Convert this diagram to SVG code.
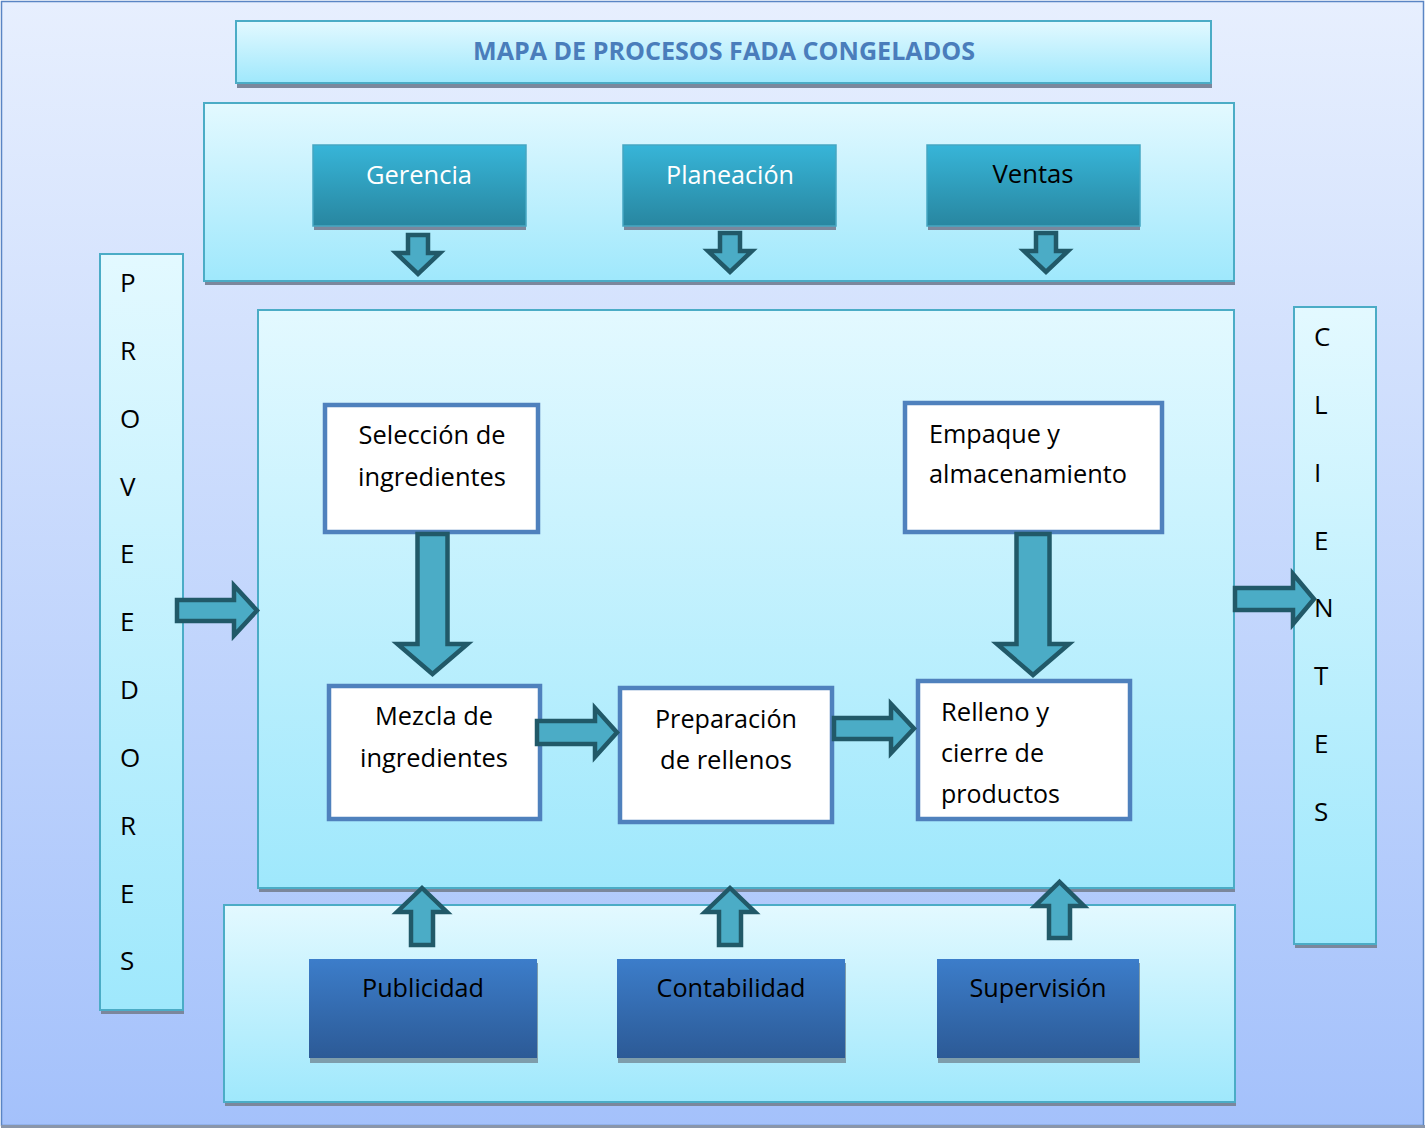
<svg xmlns="http://www.w3.org/2000/svg" width="1425" height="1128" viewBox="0 0 1425 1128">
<defs>
<linearGradient id="gBg" x1="0" y1="0" x2="0" y2="1"><stop offset="0" stop-color="#e7effe"/><stop offset="1" stop-color="#a4c1fb"/></linearGradient>
<linearGradient id="gLight" x1="0" y1="0" x2="0" y2="1"><stop offset="0" stop-color="#e3f9ff"/><stop offset="1" stop-color="#9fe8fc"/></linearGradient>
<linearGradient id="gTeal" x1="0" y1="0" x2="0" y2="1"><stop offset="0" stop-color="#37b5d8"/><stop offset="1" stop-color="#2886a0"/></linearGradient>
<linearGradient id="gBlue" x1="0" y1="0" x2="0" y2="1"><stop offset="0" stop-color="#3c7dca"/><stop offset="1" stop-color="#2c5a96"/></linearGradient>
</defs>
<style>
.light{fill:url(#gLight);stroke:#4bacc6;stroke-width:2}
.sh{fill:#7b879c}
.shb{fill:#7e9dab}
.teal{fill:url(#gTeal);stroke:#46a7c2;stroke-width:1.5}
.blue{fill:url(#gBlue)}
.proc{fill:#ffffff;stroke:#4f81bd;stroke-width:4.5}
.arr{fill:#4bacc6;stroke:#215968;stroke-width:4.5;stroke-linejoin:miter}
text{font-family:"Open Sans","Noto Sans","DejaVu Sans",sans-serif;font-size:26px;fill:#000}
.c{text-anchor:middle}
.w{fill:#ffffff}
.title{font-weight:bold;fill:#4a7dbb;font-size:25.5px}
</style>
<g id="background">
<rect x="1.5" y="1.5" width="1422" height="1124" fill="url(#gBg)" stroke="#5a85c4" stroke-width="1.5"/>
<rect x="1" y="1125" width="1424" height="3" fill="#8a96aa"/>
</g>
<g id="title">
<rect class="sh" x="237" y="25" width="975" height="63"/>
<rect class="light" x="236" y="21" width="975" height="62"/>
<text class="c title" x="724" y="60" textLength="502" lengthAdjust="spacingAndGlyphs">MAPA DE PROCESOS FADA CONGELADOS</text>
</g>
<g id="strategic-band">
<rect class="sh" x="205" y="107" width="1030" height="178"/>
<rect class="light" x="204" y="103" width="1030" height="178"/>
</g>
<g id="gerencia">
<rect class="sh" x="314" y="149" width="212" height="81"/>
<rect class="teal" x="313" y="145" width="213" height="81"/>
<text class="c w" x="419" y="184" textLength="106" lengthAdjust="spacingAndGlyphs">Gerencia</text>
</g>
<g id="planeacion">
<rect class="sh" x="624" y="149" width="212" height="81"/>
<rect class="teal" x="623" y="145" width="213" height="81"/>
<text class="c w" x="730" y="184" textLength="128" lengthAdjust="spacingAndGlyphs">Planeación</text>
</g>
<g id="ventas">
<rect class="sh" x="928" y="149" width="212" height="81"/>
<rect class="teal" x="927" y="145" width="213" height="81"/>
<text class="c" x="1033" y="183" textLength="81" lengthAdjust="spacingAndGlyphs">Ventas</text>
</g>
<g id="proveedores">
<rect class="sh" x="101" y="258" width="83" height="756"/>
<rect class="light" x="100" y="254" width="83" height="756"/>
<text x="120" y="292">P</text>
<text x="120" y="360">R</text>
<text x="120" y="428">O</text>
<text x="120" y="496">V</text>
<text x="120" y="563">E</text>
<text x="120" y="631">E</text>
<text x="120" y="699">D</text>
<text x="120" y="767">O</text>
<text x="120" y="835">R</text>
<text x="120" y="903">E</text>
<text x="120" y="970">S</text>
</g>
<g id="clientes">
<rect class="sh" x="1295" y="311" width="82" height="637"/>
<rect class="light" x="1294" y="307" width="82" height="637"/>
<text x="1314" y="346">C</text>
<text x="1314" y="414">L</text>
<text x="1314" y="482">I</text>
<text x="1314" y="550">E</text>
<text x="1314" y="617">N</text>
<text x="1314" y="685">T</text>
<text x="1314" y="753">E</text>
<text x="1314" y="821">S</text>
</g>
<g id="core-band">
<rect class="sh" x="259" y="314" width="976" height="578"/>
<rect class="light" x="258" y="310" width="976" height="578"/>
</g>
<g id="support-band">
<rect class="sh" x="225" y="909" width="1011" height="197"/>
<rect class="light" x="224" y="905" width="1011" height="197"/>
</g>
<g id="publicidad">
<rect class="shb" x="310" y="963" width="228" height="100"/>
<rect class="blue" x="309" y="959" width="228" height="99"/>
<text class="c" x="423" y="997" textLength="122" lengthAdjust="spacingAndGlyphs">Publicidad</text>
</g>
<g id="contabilidad">
<rect class="shb" x="618" y="963" width="228" height="100"/>
<rect class="blue" x="617" y="959" width="228" height="99"/>
<text class="c" x="731" y="997" textLength="149" lengthAdjust="spacingAndGlyphs">Contabilidad</text>
</g>
<g id="supervision">
<rect class="shb" x="938" y="963" width="202" height="100"/>
<rect class="blue" x="937" y="959" width="202" height="99"/>
<text class="c" x="1038" y="997" textLength="137" lengthAdjust="spacingAndGlyphs">Supervisión</text>
</g>
<g id="seleccion">
<rect class="proc" x="325" y="405" width="213" height="127"/>
<text class="c" x="432" y="444" textLength="147" lengthAdjust="spacingAndGlyphs">Selección de</text>
<text class="c" x="432" y="486" textLength="148" lengthAdjust="spacingAndGlyphs">ingredientes</text>
</g>
<g id="mezcla">
<rect class="proc" x="329" y="686" width="211" height="133"/>
<text class="c" x="434" y="725" textLength="118" lengthAdjust="spacingAndGlyphs">Mezcla de</text>
<text class="c" x="434" y="767" textLength="148" lengthAdjust="spacingAndGlyphs">ingredientes</text>
</g>
<g id="preparacion">
<rect class="proc" x="620" y="688" width="212" height="134"/>
<text class="c" x="726" y="728" textLength="142" lengthAdjust="spacingAndGlyphs">Preparación</text>
<text class="c" x="726" y="769" textLength="132" lengthAdjust="spacingAndGlyphs">de rellenos</text>
</g>
<g id="relleno">
<rect class="proc" x="918" y="681" width="212" height="138"/>
<text x="941" y="721" textLength="108" lengthAdjust="spacingAndGlyphs">Relleno y</text>
<text x="941" y="762" textLength="103" lengthAdjust="spacingAndGlyphs">cierre de</text>
<text x="941" y="803" textLength="119" lengthAdjust="spacingAndGlyphs">productos</text>
</g>
<g id="empaque">
<rect class="proc" x="905" y="403" width="257" height="129"/>
<text x="929" y="443" textLength="131" lengthAdjust="spacingAndGlyphs">Empaque y</text>
<text x="929" y="483" textLength="198" lengthAdjust="spacingAndGlyphs">almacenamiento</text>
</g>
<g id="connectors">
<path class="arr" d="M408,235 L428,235 L428,253 L440,253 L418,274 L396,253 L408,253 Z"/>
<path class="arr" d="M720,233 L740,233 L740,251 L752,251 L730,272 L708,251 L720,251 Z"/>
<path class="arr" d="M1036,233 L1056,233 L1056,251 L1068,251 L1046,272 L1024,251 L1036,251 Z"/>
<path class="arr" d="M417.5,534 L447.5,534 L447.5,644 L467.5,644 L432.5,674 L397.5,644 L417.5,644 Z"/>
<path class="arr" d="M1016.5,534 L1049.5,534 L1049.5,644 L1069,644 L1033,675 L997,644 L1016.5,644 Z"/>
<path class="arr" d="M177,600 L234,600 L234,585.5 L257,610.5 L234,635.5 L234,621 L177,621 Z"/>
<path class="arr" d="M1235,588 L1293,588 L1293,574 L1314,599 L1293,624 L1293,610 L1235,610 Z"/>
<path class="arr" d="M537,721 L595,721 L595,708 L617,732.5 L595,757 L595,744 L537,744 Z"/>
<path class="arr" d="M834,718 L891,718 L891,704 L914,728.5 L891,753 L891,739 L834,739 Z"/>
<path class="arr" d="M411,945 L411,912 L397,912 L422,888 L447,912 L433,912 L433,945 Z"/>
<path class="arr" d="M719,945 L719,912 L705,912 L730,888 L755,912 L741,912 L741,945 Z"/>
<path class="arr" d="M1049,938 L1049,906 L1035,906 L1059.5,882 L1084,906 L1070,906 L1070,938 Z"/>
</g>
</svg>
